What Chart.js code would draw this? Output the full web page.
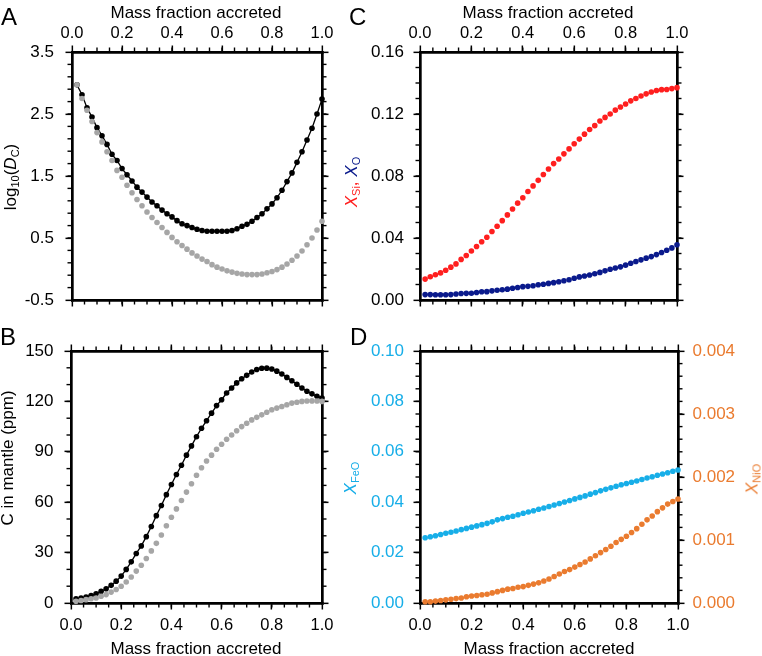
<!DOCTYPE html>
<html>
<head>
<meta charset="utf-8">
<script src="https://cdn.jsdelivr.net/npm/chart.js@4.4.1/dist/chart.umd.min.js"></script>
<style>
html, body { margin: 0; padding: 0; background: #fff; }
#fig { position: relative; width: 762px; height: 656px; overflow: hidden;
       font-family: 'Liberation Sans', Arial, sans-serif; color: #000; }
canvas { position: absolute; }
.t { position: absolute; white-space: nowrap; font-size: 17px; line-height: 17px; }
.letter { position: absolute; font-size: 24px; line-height: 24px; }
.rot { transform: translate(-50%, -50%) rotate(-90deg); }
.ctr { transform: translateX(-50%); }
sub { font-size: 11px; vertical-align: -3px; line-height: 0; }
</style>
</head>
<body>
<div id="fig">
  <canvas id="cA" width="360" height="326" style="left:0;top:0"></canvas>
  <canvas id="cB" width="360" height="330" style="left:0;top:326px"></canvas>
  <canvas id="cC" width="402" height="326" style="left:360px;top:0"></canvas>
  <canvas id="cD" width="402" height="330" style="left:360px;top:326px"></canvas>

  <div class="letter" style="left:1px;top:4.7px">A</div>
  <div class="letter" style="left:349px;top:4.7px">C</div>
  <div class="letter" style="left:0px;top:324.7px">B</div>
  <div class="letter" style="left:350px;top:324.7px">D</div>

  <div class="t ctr" style="left:196px;top:3.9px">Mass fraction accreted</div>
  <div class="t ctr" style="left:548px;top:3.9px">Mass fraction accreted</div>
  <div class="t ctr" style="left:196px;top:639.6px">Mass fraction accreted</div>
  <div class="t ctr" style="left:549px;top:639.6px">Mass fraction accreted</div>

  <div class="t rot" style="left:10.1px;top:176.5px">log<sub>10</sub>(<i>D</i><sub>C</sub>)</div>
  <div class="t rot" style="left:6.6px;top:458px">C in mantle (ppm)</div>
  <div class="t rot" style="left:351px;top:182px"><span style="color:#ff1f1f"><i>X</i><sub>Si</sub>,</span> <span style="color:#0a1a8c"><i>X</i><sub>O</sub></span></div>
  <div class="t rot" style="left:349.6px;top:478px;color:#17aee8"><i>X</i><sub>FeO</sub></div>
  <div class="t rot" style="left:752px;top:479px;color:#ea7b2f"><i>X</i><sub>NiO</sub></div>
</div>

<script>
// x positions shared by every series
const massFraction = [0.02,0.04,0.06,0.08,0.10,0.12,0.14,0.16,0.18,0.20,
  0.22,0.24,0.26,0.28,0.30,0.32,0.34,0.36,0.38,0.40,
  0.42,0.44,0.46,0.48,0.50,0.52,0.54,0.56,0.58,0.60,
  0.62,0.64,0.66,0.68,0.70,0.72,0.74,0.76,0.78,0.80,
  0.82,0.84,0.86,0.88,0.90,0.92,0.94,0.96,0.98,1.00];

// panel A: log10(Dc)
const logDcBlack = [2.97,2.81,2.60,2.45,2.28,2.15,2.01,1.85,1.75,1.62,
  1.52,1.42,1.32,1.24,1.16,1.08,1.02,0.95,0.89,0.84,
  0.78,0.73,0.70,0.67,0.64,0.62,0.61,0.61,0.61,0.61,
  0.61,0.62,0.65,0.69,0.72,0.77,0.83,0.89,0.97,1.05,
  1.15,1.27,1.41,1.55,1.72,1.89,2.08,2.27,2.50,2.74];
const logDcGray = [2.97,2.75,2.56,2.38,2.20,2.05,1.89,1.75,1.59,1.48,
  1.35,1.23,1.12,1.02,0.92,0.83,0.75,0.67,0.59,0.51,
  0.44,0.38,0.32,0.26,0.21,0.16,0.12,0.07,0.03,0.00,
  -0.03,-0.05,-0.07,-0.08,-0.09,-0.09,-0.09,-0.08,-0.06,-0.04,
  -0.01,0.03,0.08,0.14,0.21,0.29,0.39,0.50,0.63,0.77];

// panel B: C in mantle (ppm)
const cMantleBlack = [2.5,3,3.5,4.5,5.5,7,8.5,10.5,13,16,
  20,24.5,29.5,34,39.5,45.5,52,58,64.5,70.5,
  76.5,82,88,93.5,99,104,108.5,113,117.5,121,
  125,128,131,133.5,135.5,137.5,139,139.7,139.8,139.3,
  138,136.3,134.3,132.3,130.2,128,126,124.5,123,122];
const cMantleGray = [1,1.5,2,2.5,3,4,5,6.5,8,10,
  12.5,15.5,19,22.5,26.5,31,35.5,40.5,46,51,
  56,61,66,71,76,80.5,84.5,88,91.5,94.5,
  97.5,100,102.5,105,107,109,110.5,112,113.5,115,
  116,117,118,119,119.5,120,120.2,120.3,120.2,120];

// panel C: X_Si, X_O
const xSi = [0.0135,0.0150,0.0163,0.0175,0.0192,0.0212,0.0233,0.0262,0.0287,0.0316,
  0.0345,0.0376,0.0405,0.0442,0.0476,0.0512,0.0549,0.0587,0.0625,0.0660,
  0.0700,0.0736,0.0772,0.0810,0.0845,0.0880,0.0910,0.0943,0.0975,0.1008,
  0.1038,0.1070,0.1100,0.1125,0.1155,0.1178,0.1200,0.1225,0.1245,0.1265,
  0.1285,0.1300,0.1316,0.1330,0.1342,0.1352,0.1357,0.1358,0.1364,0.1370];
const xO = [0.0035,0.0035,0.0034,0.0034,0.0034,0.0035,0.0039,0.0042,0.0043,0.0044,
  0.0048,0.0053,0.0054,0.0059,0.0063,0.0066,0.0070,0.0076,0.0081,0.0086,
  0.0088,0.0092,0.0098,0.0102,0.0107,0.0112,0.0118,0.0124,0.0131,0.0140,
  0.0149,0.0155,0.0161,0.0169,0.0178,0.0188,0.0198,0.0206,0.0214,0.0225,
  0.0237,0.0248,0.0259,0.0270,0.0280,0.0293,0.0306,0.0321,0.0336,0.0356];

// panel D: X_FeO (left axis), X_NiO (right axis)
const xFeO = [0.0259,0.0263,0.0267,0.0272,0.0277,0.0281,0.0286,0.0291,0.0296,0.0301,
  0.0306,0.0311,0.0316,0.0322,0.0330,0.0335,0.0340,0.0344,0.0350,0.0356,
  0.0361,0.0366,0.0372,0.0377,0.0383,0.0389,0.0395,0.0401,0.0407,0.0413,
  0.0419,0.0425,0.0432,0.0438,0.0445,0.0451,0.0457,0.0463,0.0469,0.0474,
  0.0479,0.0484,0.0490,0.0496,0.0501,0.0507,0.0512,0.0517,0.0523,0.0528];
const xNiO = [0.00002,0.00002,0.00003,0.00004,0.00005,0.00006,0.00007,0.00008,0.00010,0.00011,
  0.00012,0.00013,0.00014,0.00016,0.00018,0.00020,0.00022,0.00023,0.00025,0.00026,
  0.00028,0.00030,0.00032,0.00035,0.00038,0.00042,0.00046,0.00050,0.00053,0.00057,
  0.00061,0.00065,0.00070,0.00075,0.00080,0.00085,0.00090,0.00096,0.00101,0.00106,
  0.00112,0.00118,0.00125,0.00132,0.00138,0.00145,0.00151,0.00157,0.00161,0.00165];

const BLACK = '#000000', GRAY = '#a6a6a6', RED = '#ff1f1f', NAVY = '#0a1a8c',
      CYAN = '#17aee8', ORANGE = '#ea7b2f';

Chart.defaults.font.family = "'Liberation Sans', Arial, sans-serif";
Chart.defaults.color = '#000';

// small outward ticks between the labelled ones
const minorTicks = {
  id: 'minorTicks',
  beforeDatasetsDraw(chart, args, opts) {
    const ctx = chart.ctx, a = chart.chartArea, len = 4.5;
    ctx.save();
    ctx.strokeStyle = '#000';
    ctx.lineWidth = 1.4;
    for (const [id, step] of Object.entries(opts.steps || {})) {
      const s = chart.scales[id];
      const n = Math.round((s.max - s.min) / step);
      for (let i = 1; i < n; i++) {
        const p = s.getPixelForValue(s.min + i * step);
        ctx.beginPath();
        if (s.position === 'left') { ctx.moveTo(a.left - len, p); ctx.lineTo(a.left, p); }
        else if (s.position === 'right') { ctx.moveTo(a.right, p); ctx.lineTo(a.right + len, p); }
        else if (s.position === 'top') { ctx.moveTo(p, a.top - len); ctx.lineTo(p, a.top); }
        else { ctx.moveTo(p, a.bottom); ctx.lineTo(p, a.bottom + len); }
        ctx.stroke();
      }
    }
    ctx.restore();
  }
};

function linAxis(pos, min, max, step, size, o = {}) {
  const horiz = pos === 'top' || pos === 'bottom';
  return {
    type: 'linear', axis: horiz ? 'x' : 'y', position: pos, min, max,
    ticks: {
      display: !!o.labels, stepSize: step, autoSkip: false, maxRotation: 0,
      padding: o.pad || 0, color: o.color || '#000',
      font: { size: horiz ? 16.5 : 17 },
      callback: v => v.toFixed(o.dec || 0)
    },
    grid: { drawOnChartArea: false, drawTicks: true, tickLength: 6.5, tickWidth: 1.5,
            tickColor: '#000', lineWidth: 2.7 },
    border: { display: true, width: 2.7, color: '#000' },
    afterFit: s => { if (horiz) s.height = size; else s.width = size; }
  };
}

function series(values, color, line, yAxisID) {
  const ds = {
    data: massFraction.map((x, i) => ({ x, y: values[i] })),
    showLine: line, borderColor: color, borderWidth: 1.3,
    pointRadius: 2.8, pointBackgroundColor: color, pointBorderWidth: 0,
    pointHoverRadius: 2.8, clip: false
  };
  if (yAxisID) ds.yAxisID = yAxisID;
  return ds;
}

function options(scales, steps) {
  return {
    responsive: false, animation: false, devicePixelRatio: 1, events: [],
    layout: { padding: 0 },
    plugins: { legend: { display: false }, tooltip: { enabled: false }, minorTicks: { steps } },
    scales
  };
}

// A
new Chart(document.getElementById('cA'), {
  type: 'scatter',
  data: { datasets: [series(logDcGray, GRAY, false), series(logDcBlack, BLACK, true)] },
  options: options({
    x: linAxis('bottom', 0, 1, 0.2, 26),
    xt: linAxis('top', 0, 1, 0.2, 52, { labels: true, dec: 1, pad: 2.3 }),
    y: linAxis('left', -0.5, 3.5, 1, 72, { labels: true, dec: 1, pad: 11.5 }),
    yr: linAxis('right', -0.5, 3.5, 1, 38)
  }, { x: 0.05, xt: 0.05, y: 0.2, yr: 0.2 }),
  plugins: [minorTicks]
});

// B
new Chart(document.getElementById('cB'), {
  type: 'scatter',
  data: { datasets: [series(cMantleGray, GRAY, false), series(cMantleBlack, BLACK, true)] },
  options: options({
    x: linAxis('bottom', 0, 1, 0.2, 53, { labels: true, dec: 1, pad: 6.1 }),
    xt: linAxis('top', 0, 1, 0.2, 25),
    y: linAxis('left', 0, 150, 30, 71, { labels: true, dec: 0, pad: 11 }),
    yr: linAxis('right', 0, 150, 30, 38)
  }, { x: 0.05, xt: 0.05, y: 10, yr: 10 }),
  plugins: [minorTicks]
});

// C
new Chart(document.getElementById('cC'), {
  type: 'scatter',
  data: { datasets: [series(xSi, RED, false), series(xO, NAVY, false)] },
  options: options({
    x: linAxis('bottom', 0, 1, 0.2, 26),
    xt: linAxis('top', 0, 1, 0.2, 52, { labels: true, dec: 1, pad: 2.3 }),
    y: linAxis('left', 0, 0.16, 0.04, 60, { labels: true, dec: 2, pad: 9.5 }),
    yr: linAxis('right', 0, 0.16, 0.04, 85)
  }, { x: 0.05, xt: 0.05, y: 0.01, yr: 0.01 }),
  plugins: [minorTicks]
});

// D
new Chart(document.getElementById('cD'), {
  type: 'scatter',
  data: { datasets: [series(xFeO, CYAN, false), series(xNiO, ORANGE, false, 'yr')] },
  options: options({
    x: linAxis('bottom', 0, 1, 0.2, 53, { labels: true, dec: 1, pad: 6.1 }),
    xt: linAxis('top', 0, 1, 0.2, 25),
    y: linAxis('left', 0, 0.10, 0.02, 60, { labels: true, dec: 2, pad: 9.5, color: CYAN }),
    yr: linAxis('right', 0, 0.004, 0.001, 84, { labels: true, dec: 3, pad: 8, color: ORANGE })
  }, { x: 0.05, xt: 0.05, y: 0.005, yr: 0.0002 }),
  plugins: [minorTicks]
});
</script>
</body>
</html>
